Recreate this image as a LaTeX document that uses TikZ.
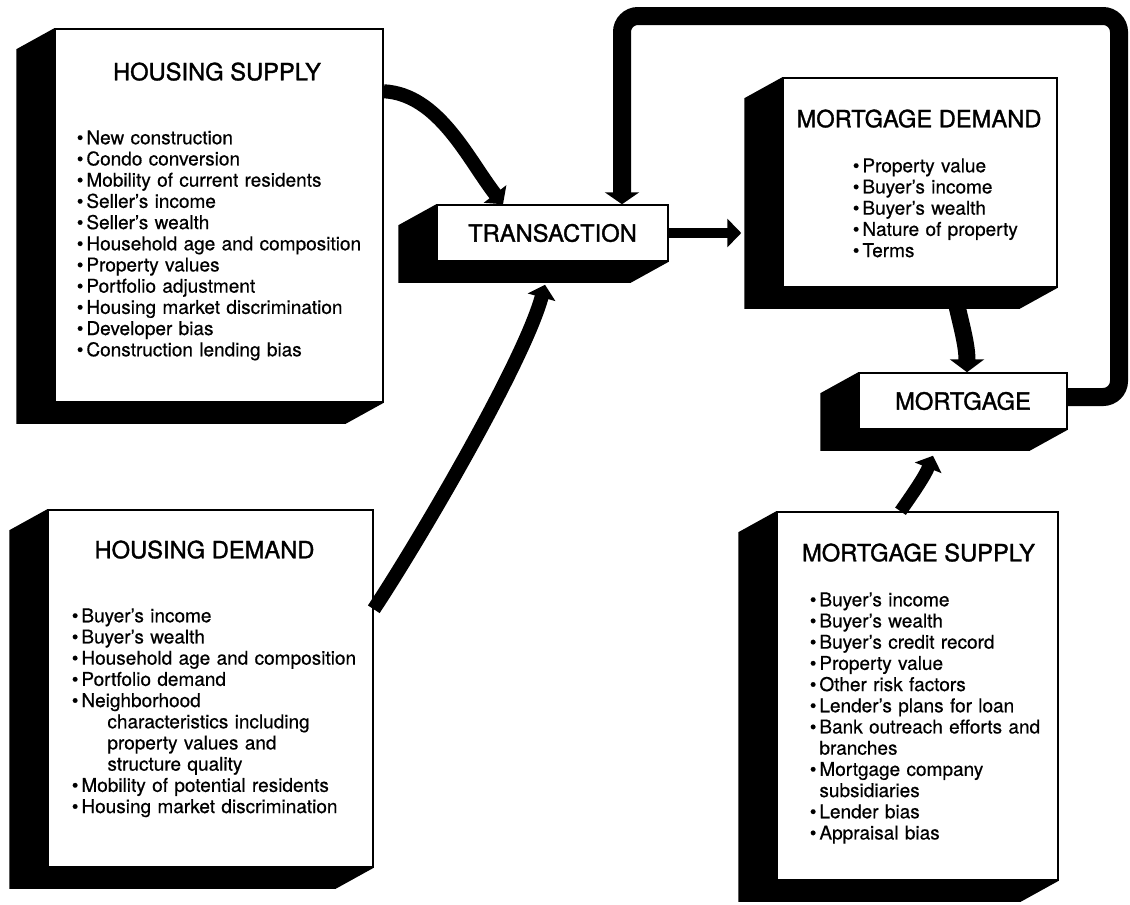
\documentclass[tikz,border=0pt]{standalone}
\usepackage{fontspec}
\setmainfont{TeX Gyre Heros}[FakeBold=0.5]
\newfontfamily\headfont{TeX Gyre Heros}[FakeBold=1.4]
\usetikzlibrary{arrows.meta,calc}

% black side and bottom of a box
\newcommand\extrude[1]{%
  \fill (#1.north west) -- ++(-38,21) |- ($(#1.south east)+(-38,21)$)
    -- (#1.south east) -- (#1.south west) -- cycle;}
\newcommand\bul{\leavevmode\llap{\textbullet\hspace{3pt}}}

\begin{document}
\begin{tikzpicture}[x=1pt,y=-1pt,
    face/.style={draw,line width=1.5pt,fill=white,inner sep=0pt},
    boxtitle/.style={anchor=base,font=\headfont\fontsize{23.7}{28}\selectfont},
    itemlist/.style={anchor=base west,align=left,text width=300pt,inner sep=0pt,
      font=\fontsize{19}{21.2}\selectfont},
    flowarrow/.style={line width=14pt,-{Triangle[width=28pt,length=13pt]}},
    loopline/.style={line width=18pt,rounded corners=16pt,-{Triangle[width=34pt,length=12pt]}}]
\useasboundingbox (0,0) rectangle (1130,905);

% boxes
\node[face,minimum width=328pt,minimum height=373pt] (hsup) at (219,215.5) {};
\node[face,minimum width=325pt,minimum height=357pt] (hdem) at (210.5,688.5) {};
\node[face,minimum width=231pt,minimum height=56pt,font=\headfont\fontsize{23.7}{28}\selectfont] (trans) at (552.5,233) {TRANSACTION};
\node[face,minimum width=274pt,minimum height=209pt] (mdem) at (920,182.5) {};
\node[face,minimum width=208pt,minimum height=56pt,font=\headfont\fontsize{23.7}{28}\selectfont] (mort) at (963,401) {MORTGAGE};
\node[face,minimum width=281pt,minimum height=368pt] (msup) at (917.5,696) {};
\extrude{hsup}
\extrude{hdem}
\extrude{trans}
\extrude{mdem}
\extrude{mort}
\extrude{msup}

% titles and lists
\node[boxtitle] at ($(hsup.north)+(-2,52)$) {HOUSING SUPPLY};
\node[itemlist] at ($(hsup.north west)+(32,116)$) {%
  \bul New construction\\
  \bul Condo conversion\\
  \bul Mobility of current residents\\
  \bul Seller's income\\
  \bul Seller's wealth\\
  \bul Household age and composition\\
  \bul Property values\\
  \bul Portfolio adjustment\\
  \bul Housing market discrimination\\
  \bul Developer bias\\
  \bul Construction lending bias};

\node[boxtitle] at ($(hdem.north)+(-6,49)$) {HOUSING DEMAND};
\node[itemlist] at ($(hdem.north west)+(34,113)$) {%
  \bul Buyer's income\\
  \bul Buyer's wealth\\
  \bul Household age and composition\\
  \bul Portfolio demand\\
  \bul Neighborhood\\
  \hspace*{26pt}characteristics including\\
  \hspace*{26pt}property values and\\
  \hspace*{26pt}structure quality\\
  \bul Mobility of potential residents\\
  \bul Housing market discrimination};

\node[boxtitle] at ($(mdem.north)+(-1,50)$) {MORTGAGE DEMAND};
\node[itemlist] at ($(mdem.north west)+(80,95)$) {%
  \bul Property value\\
  \bul Buyer's income\\
  \bul Buyer's wealth\\
  \bul Nature of property\\
  \bul Terms};

\node[boxtitle] at ($(msup.north)+(1,50)$) {MORTGAGE SUPPLY};
\node[itemlist] at ($(msup.north west)+(43,95)$) {%
  \bul Buyer's income\\
  \bul Buyer's wealth\\
  \bul Buyer's credit record\\
  \bul Property value\\
  \bul Other risk factors\\
  \bul Lender's plans for loan\\
  \bul Bank outreach efforts and\\
  branches\\
  \bul Mortgage company\\
  subsidiaries\\
  \bul Lender bias\\
  \bul Appraisal bias};

% arrows
\draw[flowarrow] ($(hsup.north east)+(0,63)$) .. controls +(55,3) and +(-35,-45) .. ($(trans.north)+(-49.5,0)$);
\draw[flowarrow] ($(hdem.north east)+(0,100)$) .. controls +(40,-60) and +(-22,80) .. ($(trans.south)+(-7.5,23)$);
\draw[flowarrow,line width=10pt,-{Triangle[width=28pt,length=14pt]}] (trans.east) -- ($(mdem.west |- trans.east)+(-41,0)$);
\draw[flowarrow,line width=17pt,-{Triangle[width=34pt,length=13pt]}] ($(mdem.south)+(33,0)$) .. controls +(6,30) and +(0,-30) .. ($(mort.north)+(4,0)$);
\draw[flowarrow,line width=13pt] ($(msup.north)+(-17,0)$) .. controls +(14,-20) and +(-8,20) .. ($(mort.south)+(-30,26)$);
\draw[loopline] ($(mort.east)+(0,-4)$) -| (1119,16) -| ($(trans.north)+(69.5,0)$);
\end{tikzpicture}
\end{document}
